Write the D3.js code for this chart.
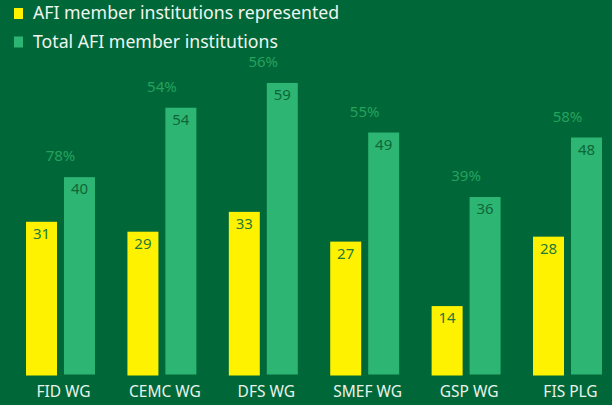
<!DOCTYPE html>
<html>
<head>
<meta charset="utf-8">
<script src="https://cdn.jsdelivr.net/npm/d3@7"></script>
<style>
  html, body { margin: 0; padding: 0; background: #006838; }
  svg { display: block; font-family: "Noto Sans", sans-serif; }
</style>
</head>
<body>
<div id="chart"></div>
<script>
// data
const groups = ["FID WG", "CEMC WG", "DFS WG", "SMEF WG", "GSP WG", "FIS PLG"];
const represented = [31, 29, 33, 27, 14, 28];
const totals = [40, 54, 59, 49, 36, 48];
const seriesNames = ["AFI member institutions represented", "Total AFI member institutions"];

const width = 612, height = 405;
const bg = "#006838", yellow = "#fff200", green = "#2db673";

const svg = d3.select("#chart")
  .append("svg")
  .attr("width", width)
  .attr("height", height);

svg.append("rect").attr("width", width).attr("height", height).attr("fill", bg);

const data = groups.map((g, i) => ({ group: g, rep: represented[i], total: totals[i] }));

// scales
let x0 = d3.scaleBand()
  .domain(groups)
  .range([9.8, 618.2])
  .paddingInner(0.32)
  .paddingOuter(0.16);

let x1 = d3.scaleBand()
  .domain(["rep", "total"])
  .range([0, x0.bandwidth()])
  .paddingInner(0.184);

let yScale = d3.scaleLinear()
  .domain([0, 60])
  .range([375.5, 78]);

// category axis
const xAxis = svg.append("g")
  .attr("transform", `translate(3, ${375.5})`)
  .call(d3.axisBottom(x0).tickSize(0).tickPadding(10));
xAxis.select(".domain").remove();
xAxis.selectAll("text")
  .attr("fill", "#e8f2eb")
  .attr("font-size", "15.5px")
  .attr("font-family", "Noto Sans, sans-serif");

// bars
const g = svg.selectAll(".group")
  .data(data)
  .enter()
  .append("g")
  .attr("class", "group")
  .attr("transform", d => `translate(${x0(d.group)}, 0)`);

g.append("rect")
  .attr("x", x1("rep"))
  .attr("y", d => yScale(d.rep))
  .attr("width", x1.bandwidth())
  .attr("height", d => yScale(0) - yScale(d.rep))
  .attr("fill", yellow);

g.append("rect")
  .attr("x", x1("total"))
  .attr("y", d => yScale(d.total))
  .attr("width", x1.bandwidth())
  .attr("height", d => yScale(0) - 1 - yScale(d.total))
  .attr("fill", green);

// value labels inside bar tops
g.append("text")
  .attr("x", x1("rep") + x1.bandwidth() / 2)
  .attr("y", d => yScale(d.rep) + 17)
  .attr("text-anchor", "middle")
  .attr("font-size", "15px")
  .attr("fill", "#1f7a3c")
  .text(d => d.rep);

g.append("text")
  .attr("x", x1("total") + x1.bandwidth() / 2)
  .attr("y", d => yScale(d.total) + 17)
  .attr("text-anchor", "middle")
  .attr("font-size", "15px")
  .attr("fill", "#0f6636")
  .text(d => d.total);

// percent labels above the group
g.append("text")
  .attr("x", x0.bandwidth() / 2)
  .attr("y", d => yScale(d.total) - 16)
  .attr("text-anchor", "middle")
  .attr("font-size", "15px")
  .attr("fill", "#26a15e")
  .text(d => Math.round(d.rep / d.total * 100) + "%");

// legend
const legend = svg.selectAll(".legend")
  .data(seriesNames)
  .enter()
  .append("g")
  .attr("class", "legend")
  .attr("transform", (d, i) => `translate(14, ${8 + i * 28.5})`);

legend.append("rect")
  .attr("width", 9)
  .attr("height", 11)
  .attr("fill", (d, i) => i === 0 ? yellow : green);

legend.append("text")
  .attr("x", 19)
  .attr("y", 11)
  .attr("font-size", "17.7px")
  .attr("fill", "#eef5f0")
  .text(d => d);
</script>
</body>
</html>
